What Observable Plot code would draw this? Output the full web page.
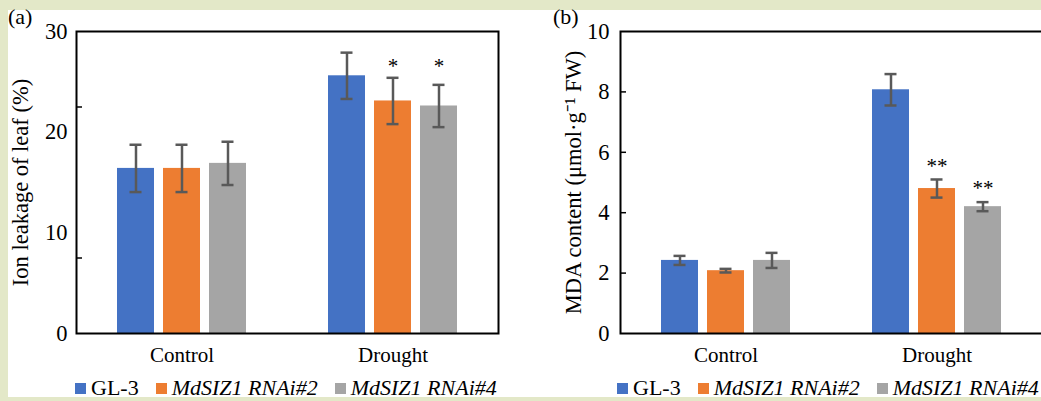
<!DOCTYPE html>
<html><head><meta charset="utf-8">
<script src="https://cdn.jsdelivr.net/npm/d3@7"></script>
<script src="https://cdn.jsdelivr.net/npm/@observablehq/plot@0.6"></script>
<style>
body{margin:0;}
#wrap{position:relative;width:1041px;height:401px;background:#e3e8c8;overflow:hidden;font-family:"Liberation Serif","Times New Roman",serif;color:#000;}
#white{position:absolute;left:8px;top:10px;width:1033px;height:391px;background:#fff;}
.panel{position:absolute;top:0;width:540px;}
.panel svg{max-width:none !important;}
.tag{position:absolute;top:4px;font-size:22px;}
.legend{position:absolute;top:375px;display:flex;align-items:center;gap:17px;font-size:22px;white-space:nowrap;}
.legend span.sw{display:inline-block;width:11px;height:11px;margin-right:5px;vertical-align:middle;position:relative;top:-1px;}
.legend i{font-style:italic;}
#bottom{position:absolute;left:0;top:397px;width:1041px;height:4px;background:#e3e8c8;}
</style></head>
<body>
<div id="wrap">
  <div id="white"></div>
  <div id="pa" class="panel" style="left:0"></div>
  <div id="pb" class="panel" style="left:520px"></div>
  <div class="tag" style="left:8px">(a)</div>
  <div class="tag" style="left:553px">(b)</div>
  <div id="la" class="legend" style="left:75px"></div>
  <div id="lb" class="legend" style="left:617px"></div>
  <div id="bottom"></div>
</div>
<script>
const groups = ["Control", "Drought"];
const series = ["GL-3", "MdSIZ1 RNAi#2", "MdSIZ1 RNAi#4"];
const colors = ["#4472c4", "#ed7d31", "#a5a5a5"];
const italicSeries = [false, true, true];

// Panel (a): ion leakage of leaf (%)
const ionMean = [[16.4, 16.4, 16.9], [25.6, 23.1, 22.6]];
const ionErr  = [[2.35, 2.35, 2.15], [2.3, 2.3, 2.1]];
const ionSig  = [["", "", ""], ["", "*", "*"]];
const ionSigY = [[0, 0, 0], [0, 26.5, 26.5]];
const ionTicks = [0, 10, 20, 30];
const ionMarks = [7.5, 22.5];

// Panel (b): MDA content
const mdaMean = [[2.42, 2.08, 2.42], [8.07, 4.8, 4.2]];
const mdaErr  = [[0.15, 0.06, 0.25], [0.52, 0.3, 0.15]];
const mdaSig  = [["", "", ""], ["", "**", "**"]];
const mdaSigY = [[0, 0, 0], [0, 5.55, 4.8]];
const mdaTicks = [0, 2, 4, 6, 8, 10];
const mdaMarks = [2, 4, 6, 8];

function rows(mean, err, sig, sigY) {
  return groups.flatMap((g, i) => series.map((s, j) => ({
    group: g, series: s, mean: mean[i][j],
    lo: mean[i][j] - err[i][j], hi: mean[i][j] + err[i][j],
    sig: sig[i][j], sigY: sigY[i][j]
  })));
}

const FONT = "Liberation Serif, Times New Roman, serif";

function panel({data, ymax, ticks, marks, title, width, marginLeft, marginRight, labelOffset, tickPadding}) {
  const eb = "#595959";
  return Plot.plot({
    width, height: 370, marginLeft, marginRight, marginTop: 31, marginBottom: 37,
    style: {fontFamily: FONT, fontSize: "21px", background: "transparent", color: "#000", overflow: "visible", maxWidth: "none"},
    fx: {domain: groups, padding: 0, label: null, axis: null},
    x: {domain: series, paddingInner: 0.2, paddingOuter: 0.87, axis: null},
    y: {domain: [0, ymax], axis: null, label: null},
    color: {domain: series, range: colors},
    marks: [
      Plot.barY(data, {fx: "group", x: "series", y: "mean", fill: "series"}),
      Plot.ruleX(data, {fx: "group", x: "series", y1: "lo", y2: "hi", stroke: eb, strokeWidth: 2.5}),
      Plot.tickY(data, {fx: "group", x: "series", y: "lo", stroke: eb, strokeWidth: 2.5, inset: 12.5}),
      Plot.tickY(data, {fx: "group", x: "series", y: "hi", stroke: eb, strokeWidth: 2.5, inset: 12.5}),
      Plot.text(data.filter(d => d.sig), {fx: "group", x: "series", y: "sigY", text: "sig", fontSize: 21, fill: "#000"}),
      Plot.axisY({ticks, tickSize: 0, tickPadding, fontSize: 22.5, label: null}),
      Plot.axisY({ticks: [], label: title, labelAnchor: "center", labelOffset, labelArrow: "none", fontSize: 22.5}),
      Plot.axisY({ticks: marks, tickSize: 6, dx: 6, tickFormat: () => "", label: null, stroke: "#000", strokeWidth: 1.5}),
      Plot.axisFx({anchor: "bottom", tickSize: 0, tickPadding: 14, fontSize: 21, label: null}),
      Plot.frame({facet: "super", stroke: "#000", strokeWidth: 2})
    ]
  });
}

document.getElementById("pa").append(panel({
  data: rows(ionMean, ionErr, ionSig, ionSigY), ymax: 30, ticks: ionTicks, marks: ionMarks,
  title: "Ion leakage of leaf (%)", width: 520, marginLeft: 76, marginRight: 22, labelOffset: 64, tickPadding: 9
}));
document.getElementById("pb").append(panel({
  data: rows(mdaMean, mdaErr, mdaSig, mdaSigY), ymax: 10, ticks: mdaTicks, marks: mdaMarks,
  title: "MDA content (μmol·g⁻¹ FW)", width: 540, marginLeft: 100, marginRight: 18, labelOffset: 55, tickPadding: 11
}));

function legend(el) {
  series.forEach((s, i) => {
    const item = document.createElement("div");
    const sw = document.createElement("span");
    sw.className = "sw"; sw.style.background = colors[i];
    item.append(sw);
    const t = document.createElement(italicSeries[i] ? "i" : "span");
    t.textContent = s;
    item.append(t);
    el.append(item);
  });
}
legend(document.getElementById("la"));
legend(document.getElementById("lb"));
</script>
</body></html>
